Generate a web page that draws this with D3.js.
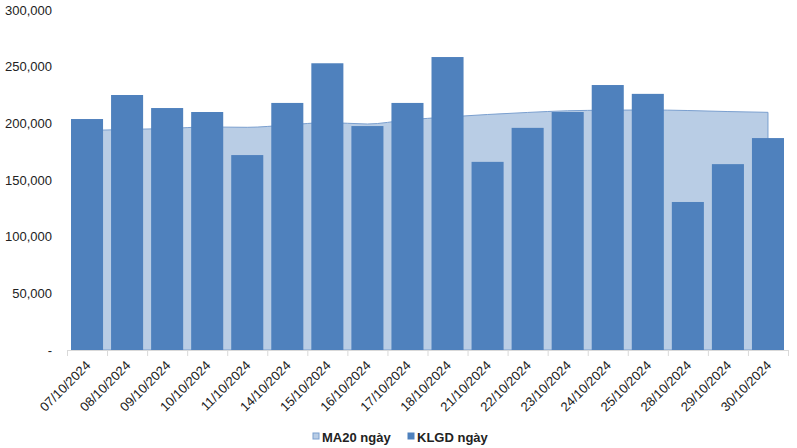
<!DOCTYPE html>
<html><head><meta charset="utf-8">
<script src="https://cdn.jsdelivr.net/npm/d3@7"></script>
<style>body{margin:0;background:#fff}svg{display:block}</style>
</head><body>
<svg id="c" width="797" height="448"></svg>
<script>
const categories = ["07/10/2024","08/10/2024","09/10/2024","10/10/2024","11/10/2024","14/10/2024","15/10/2024","16/10/2024","17/10/2024","18/10/2024","21/10/2024","22/10/2024","23/10/2024","24/10/2024","25/10/2024","28/10/2024","29/10/2024","30/10/2024"];
const klgd = [203800,225000,213500,210000,172000,218000,253000,197600,218000,258500,166000,196000,210000,233800,226000,130600,164000,187000];
const ma20 = [193700,194600,195400,196800,196500,198500,200700,199400,203000,205600,207800,209600,211100,211600,211800,211300,210400,209700];
const yTicks = [0,50000,100000,150000,200000,250000,300000];
const seriesNames = ["MA20 ngày","KLGD ngày"];

const svg = d3.select("#c");
const font = "Liberation Sans, Arial, sans-serif";
const x = d3.scaleBand().domain(categories).range([67,788]).paddingInner(0.2).paddingOuter(0.1);
const y = d3.scaleLinear().domain([0,300000]).range([350,10]);
const cx = d => x(d) + x.bandwidth()/2;

// y labels
svg.append("g").selectAll("text").data(yTicks).join("text")
  .attr("x",52).attr("y",d=>y(d)).attr("dy","0.35em").attr("text-anchor","end")
  .attr("font-family",font).attr("font-size",13).attr("fill","#222")
  .text(d=> d===0 ? "-" : d3.format(",")(d));

// area
const area = d3.area().x((d,i)=>cx(categories[i])).y0(y(0)).y1(d=>y(d)).curve(d3.curveMonotoneX);
svg.append("path").datum(ma20).attr("d",area).attr("fill","#b9cde5").attr("stroke","#7a9fcf").attr("stroke-width",1);

// bars
svg.append("g").selectAll("rect").data(klgd).join("rect")
  .attr("x",(d,i)=>x(categories[i])).attr("width",x.bandwidth())
  .attr("y",d=>y(d)).attr("height",d=>y(0)-y(d)).attr("fill","#4f81bd");

// x axis
const xa = svg.append("g");
xa.append("line").attr("x1",67).attr("x2",788).attr("y1",350.5).attr("y2",350.5).attr("stroke","#d9d9d9");
const step = x.step();
xa.selectAll("line.t").data(d3.range(categories.length+1)).join("line").attr("class","t")
  .attr("x1",i=>67+i*step+0.5).attr("x2",i=>67+i*step+0.5).attr("y1",350).attr("y2",356).attr("stroke","#d9d9d9");
xa.selectAll("text").data(categories).join("text")
  .attr("transform",d=>`translate(${cx(d)+1},${363}) rotate(-45)`)
  .attr("text-anchor","end").attr("dy","0.35em")
  .attr("font-family",font).attr("font-size",13).attr("fill","#222").text(d=>d);

// legend
const lg = svg.append("g").attr("font-family",font).attr("font-size",13).attr("font-weight","bold");
const legendItems = [{n:seriesNames[0],f:"#b9cde5",s:"#7a9fcf",x:313},{n:seriesNames[1],f:"#4f81bd",s:"#4f81bd",x:408}];
legendItems.forEach(it=>{
  lg.append("rect").attr("x",it.x).attr("y",433).attr("width",6).attr("height",6).attr("fill",it.f).attr("stroke",it.s);
  lg.append("text").attr("x",it.x+9).attr("y",437).attr("dy","0.35em").attr("fill","#222").text(it.n);
});
</script>
</body></html>
